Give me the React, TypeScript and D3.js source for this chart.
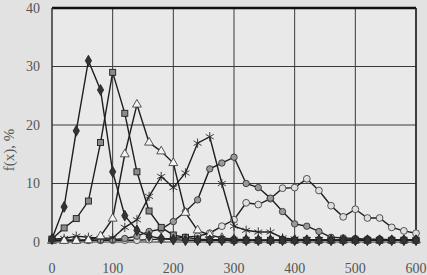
import React from 'react';
import * as d3 from 'd3';

const xValues = d3.range(0, 601, 20);
const xTicks = [0, 100, 200, 300, 400, 500, 600];
const yTicks = [0, 10, 20, 30, 40];

// f(x), % for each series, one value per x step of 20
const diamonds = [0.5, 6, 19, 31, 26, 12, 4.5, 2, 1, 0.6, 0.4, 0.3, 0.3, 0.3, 0.3, 0.3, 0.3, 0.3, 0.3, 0.3, 0.3, 0.3, 0.3, 0.3, 0.3, 0.3, 0.3, 0.3, 0.3, 0.3, 0.3];
const squares = [0.5, 2.4, 4, 7, 17, 29, 22, 12, 5.3, 2.5, 1.2, 0.8, 0.5, 0.4, 0.4, 0.3, 0.3, 0.3, 0.3, 0.3, 0.3, 0.3, 0.3, 0.3, 0.3, 0.3, 0.3, 0.3, 0.3, 0.3, 0.3];
const triangles = [0.2, 0.2, 0.2, 0.3, 1, 4, 15, 23.5, 17, 15.5, 13.5, 5, 2, 1.2, 0.7, 0.5, 0.4, 0.3, 0.3, 0.3, 0.3, 0.3, 0.3, 0.3, 0.3, 0.3, 0.3, 0.3, 0.3, 0.3, 0.3];
const stars = [0.5, 0.6, 1, 0.8, 0.6, 0.7, 2.5, 3.8, 7.8, 11.2, 9.3, 11.8, 16.9, 18, 10, 2.7, 2, 1.7, 1.7, 0.7, 0.5, 0.4, 0.4, 0.3, 0.3, 0.3, 0.3, 0.3, 0.3, 0.3, 0.3];
const grayCircles = [0.3, 0.3, 0.3, 0.3, 0.3, 0.4, 0.6, 1, 1.8, 2.2, 3.5, 5.2, 7.2, 12.5, 13.5, 14.5, 10, 9.3, 7.5, 5.2, 3.1, 2.7, 1.8, 0.8, 0.7, 0.6, 0.5, 0.5, 0.4, 0.4, 0.4];
const openCircles = [0.3, 0.3, 0.3, 0.3, 0.3, 0.3, 0.3, 0.3, 0.4, 0.5, 0.6, 0.8, 1, 1.5, 2.7, 3.8, 6.7, 6.4, 7.4, 9.2, 9.3, 10.8, 8.8, 6.2, 4.3, 5.6, 4.1, 4.1, 2.5, 1.9, 1.5];

const width = 427;
const height = 275;
const margin = { left: 52, right: 11, top: 8, bottom: 33 };

const x = d3.scaleLinear().domain([0, 600]).range([margin.left, width - margin.right]);
const y = d3.scaleLinear().domain([0, 40]).range([height - margin.bottom, margin.top]);

const line = d3.line<number>().x((_, i) => x(xValues[i])).y((d) => y(d));

const ink = '#1e1e1e';
const font = '"Liberation Serif", "DejaVu Serif", serif';

type Kind = 'diamond' | 'square' | 'triangle' | 'star' | 'gray' | 'open';

const series: { kind: Kind; values: number[] }[] = [
  { kind: 'open', values: openCircles },
  { kind: 'gray', values: grayCircles },
  { kind: 'star', values: stars },
  { kind: 'triangle', values: triangles },
  { kind: 'square', values: squares },
  { kind: 'diamond', values: diamonds },
];

const Marker: React.FC<{ kind: Kind; cx: number; cy: number }> = ({ kind, cx, cy }) => {
  switch (kind) {
    case 'diamond':
      return <path d={d3.symbol(d3.symbolDiamond, 34)()!} transform={`translate(${cx},${cy})`} fill="#333" stroke={ink} strokeWidth={0.8} />;
    case 'square':
      return <rect x={cx - 3} y={cy - 3} width={6} height={6} fill="#8a8a8a" stroke={ink} strokeWidth={0.9} />;
    case 'triangle':
      return <path d={d3.symbol(d3.symbolTriangle, 34)()!} transform={`translate(${cx},${cy})`} fill="#f4f4f4" stroke="#444" strokeWidth={0.9} />;
    case 'star':
      return <path d={d3.symbol(d3.symbolAsterisk, 60)()!} transform={`translate(${cx},${cy})`} fill="none" stroke="#2a2a2a" strokeWidth={0.9} />;
    case 'gray':
      return <circle cx={cx} cy={cy} r={3.2} fill="#999" stroke="#333" strokeWidth={0.9} />;
    default:
      return <circle cx={cx} cy={cy} r={3.4} fill="#dedede" stroke="#444" strokeWidth={0.9} />;
  }
};

export default function App() {
  const x0 = margin.left;
  const x1 = width - margin.right;
  const y0 = height - margin.bottom;
  const y1 = margin.top;
  return (
    <svg width={width} height={height} style={{ position: 'absolute', left: 0, top: 0 }}>
      <rect width={width} height={height} fill="#e2e2e2" />
      <rect x={x0} y={y1} width={x1 - x0} height={y0 - y1} fill="#e9e9e9" />
      {xTicks.slice(1).map((t) => (
        <line key={'gx' + t} x1={x(t)} x2={x(t)} y1={y1} y2={y0} stroke="#3a3a3a" strokeWidth={1} />
      ))}
      {yTicks.slice(1).map((t) => (
        <line key={'gy' + t} x1={x0} x2={x1} y1={y(t)} y2={y(t)} stroke="#3a3a3a" strokeWidth={1} />
      ))}
      <line x1={x0} x2={x1} y1={y1} y2={y1} stroke="#111" strokeWidth={2.5} />
      <line x1={x0} x2={x0} y1={y1} y2={y0} stroke="#333" strokeWidth={1.5} />
      <line x1={x1} x2={x1} y1={y1} y2={y0} stroke="#222" strokeWidth={1.5} />
      <line x1={x0} x2={x1} y1={y0} y2={y0} stroke="#333" strokeWidth={1} />
      {series.map((s) => (
        <g key={s.kind}>
          <path d={line(s.values)!} fill="none" stroke={ink} strokeWidth={1.4} />
          {s.values.map((v, i) => (
            <Marker key={i} kind={s.kind} cx={x(xValues[i])} cy={y(v)} />
          ))}
        </g>
      ))}
      {yTicks.map((t) => (
        <text key={'ty' + t} x={40} y={y(t)} dy="0.35em" textAnchor="end" fontFamily={font} fontSize={14} fill="#555">
          {t}
        </text>
      ))}
      {xTicks.map((t) => (
        <text key={'tx' + t} x={x(t)} y={268} dy="0.35em" textAnchor="middle" fontFamily={font} fontSize={14} fill="#555">
          {t}
        </text>
      ))}
      <text transform={`translate(14,${(y0 + y1) / 2 + 25}) rotate(-90)`} textAnchor="middle" fontFamily={font} fontSize={15} fill="#555">
        f(x), %
      </text>
    </svg>
  );
}
